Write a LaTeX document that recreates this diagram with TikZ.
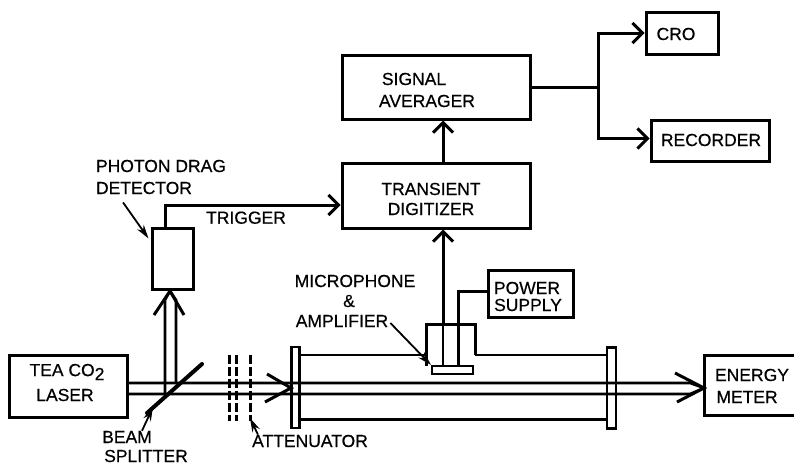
\documentclass[tikz,border=0pt]{standalone}
\usepackage{fontspec}
\setmainfont{Liberation Sans}[FakeBold=0.5]
\usetikzlibrary{arrows.meta}

\tikzset{%
  box/.style={draw, line width=3pt, inner sep=0pt},
  label text/.style={font=\fontsize{17.5}{20}\selectfont, inner sep=0pt},
  wire/.style={line width=3pt},
  beam/.style={line width=2.6pt},
  barb/.style={line width=3pt, line join=miter},
  leader/.style={line width=1.8pt, -{Stealth[length=14pt,width=8pt]}},
  atten/.style={line width=3pt, dash pattern=on 9pt off 3pt},
}

\begin{document}
\begin{tikzpicture}[x=1pt, y=-1pt, >={Straight Barb[length=10pt,width=20pt]}]
\useasboundingbox (0,0) rectangle (794,466);
%=========================================================================================================
% Boxes
%=========================================================================================================
\node [box, minimum width=188pt, minimum height=64pt] (signal) at (436,87) {};
\node [box, minimum width=188pt, minimum height=65pt] (transient) at (436,195.5) {};
\node [box, minimum width=72pt, minimum height=42pt] (cro) at (682,33) {};
\node [box, minimum width=118pt, minimum height=41pt] (recorder) at (710,140.5) {};
\node [box, minimum width=41pt, minimum height=61pt] (detector) at (172.5,258.5) {};
\node [box, minimum width=118pt, minimum height=62pt] (laser) at (68,386) {};
\node [box, minimum width=85pt, minimum height=47pt] (power) at (530.5,293.5) {};
\node [box, minimum width=96pt, minimum height=60pt] (energy) at (752,385) {};

%=========================================================================================================
% Gas cell
%=========================================================================================================
\node [box, line width=2.4pt, minimum width=8pt, minimum height=81pt] (window1) at (295.5,387.5) {};
\node [box, line width=2.4pt, minimum width=9pt, minimum height=81pt] (window2) at (611.5,388) {};
\node [box, line width=2pt, minimum width=41pt, minimum height=8pt] (mic) at (452.5,370) {};

\coordinate (housing-bl) at (426,366);
\coordinate (housing-tl) at (426,324);
\coordinate (housing-tr) at (475,324);
\coordinate (housing-br) at (475,355);
\coordinate (tube-l) at (300,355);
\coordinate (tube-r) at (607,355);
\coordinate (floor-l) at (300,419);
\coordinate (floor-r) at (607,419);

\draw [wire] (housing-bl) -- (housing-tl) -- (housing-tr) -- (housing-br);
\draw [wire, line width=2pt] (housing-br) -- (tube-r);
\draw [wire, line width=1.8pt] (tube-l) -- (housing-bl |- tube-l);
\draw [wire] (floor-l) -- (floor-r);

%=========================================================================================================
% Signal connections
%=========================================================================================================
\coordinate (mic-out) at (443,366);
\draw [wire, line width=2pt] (mic-out) -- (mic-out |- housing-tl);
\draw [wire, ->] (mic-out |- housing-tl) -- ([xshift=7pt]transient.south);
\draw [wire, ->] ([xshift=7pt]transient.north) -- ([xshift=7pt]signal.south);
\coordinate (branch) at (598,87);
\draw [wire] (signal.east) -- (branch);
\draw [wire, ->] (branch) |- (cro.west);
\draw [wire, ->] (branch) |- ([yshift=2pt]recorder.west);
\coordinate (supply) at (458,291);
\draw [wire] (power.west |- supply) -- (supply) -- (supply |- mic.north);
\draw [wire, ->] ([xshift=-7pt]detector.north) |- node [pos=0.73, below=5pt, label text] (trigger) {TRIGGER} ([yshift=-9.5pt]transient.west);

%=========================================================================================================
% Laser beams
%=========================================================================================================
\coordinate (upper) at (127,383);
\coordinate (lower) at (127,394);
\coordinate (upper-end) at (690,383);
\coordinate (lower-end) at (690,394);
\coordinate (tip-energy) at (704,388);
\coordinate (tip-window) at (291,388);
\coordinate (tip-detector) at (170,291);
\draw [beam] (upper) -- (upper-end) -- (tip-energy);
\draw [beam] (lower) -- (lower-end) -- (tip-energy);
\draw [beam] (165,394) coordinate (split-l) -- (165,300) -- (tip-detector);
\draw [beam] (176,383) coordinate (split-r) -- (176,300) -- (tip-detector);

\draw [barb] (tip-energy) ++(-29,-15) -- (tip-energy) -- ++(-27,14);
\draw [barb] (tip-window) ++(-24,-14) -- (tip-window) -- ++(-26,14);
\draw [barb] (tip-detector) ++(-16,24) -- (tip-detector) -- ++(14,24);

%Beam splitter and attenuator plates
\coordinate (splitter-a) at (147,413);
\coordinate (splitter-b) at (202,364);
\draw [line width=4pt, line cap=round] (splitter-a) -- (splitter-b);
\foreach \x [count=\i] in {229,236,250}
{
  \coordinate (plate-\i-a) at (\x,355);
  \coordinate (plate-\i-b) at (\x,421);
  \draw [atten] (plate-\i-a) -- (plate-\i-b);
}

%=========================================================================================================
% Labels
%=========================================================================================================
\foreach \n/\x/\y/\l in {
  signal1/414/79/SIGNAL, signal2/427/101/AVERAGER,
  transient1/431/189/TRANSIENT, transient2/431/209/DIGITIZER,
  crolabel/676/34/CRO, recorderlabel/711/140/RECORDER,
  photon1/161/166/PHOTON DRAG, photon2/144/188/DETECTOR,
  mic1/355/281/MICROPHONE, mic2/349/301/\&, mic3/342/321/AMPLIFIER,
  power1/527/288/POWER, power2/528/305/SUPPLY,
  laser2/65/395/LASER,
  energy1/752/375/ENERGY, energy2/747/397/METER,
  beam1/127/437/BEAM, beam2/146/456/SPLITTER,
  attenuator/310/441/ATTENUATOR}
  \node [label text] (\n) at (\x,\y) {\l};
\node [label text] (laser1) at (67,372) {TEA CO\raisebox{-4pt}{2}};

%Pointers from the labels
\draw [leader] ([xshift=-21pt,yshift=-8pt]photon2.south) -- ([xshift=-2pt,yshift=20pt]detector.west);
\draw [leader] (mic3.east) ++(2,2) coordinate (mic-from) -- (mic.north west);
\draw [leader] ([xshift=15pt]beam1.north) -- ([xshift=6pt,yshift=6pt]splitter-a);
\draw [leader] ([xshift=6pt]attenuator.north west) -- ([yshift=3pt]plate-3-b);
\end{tikzpicture}
\end{document}
